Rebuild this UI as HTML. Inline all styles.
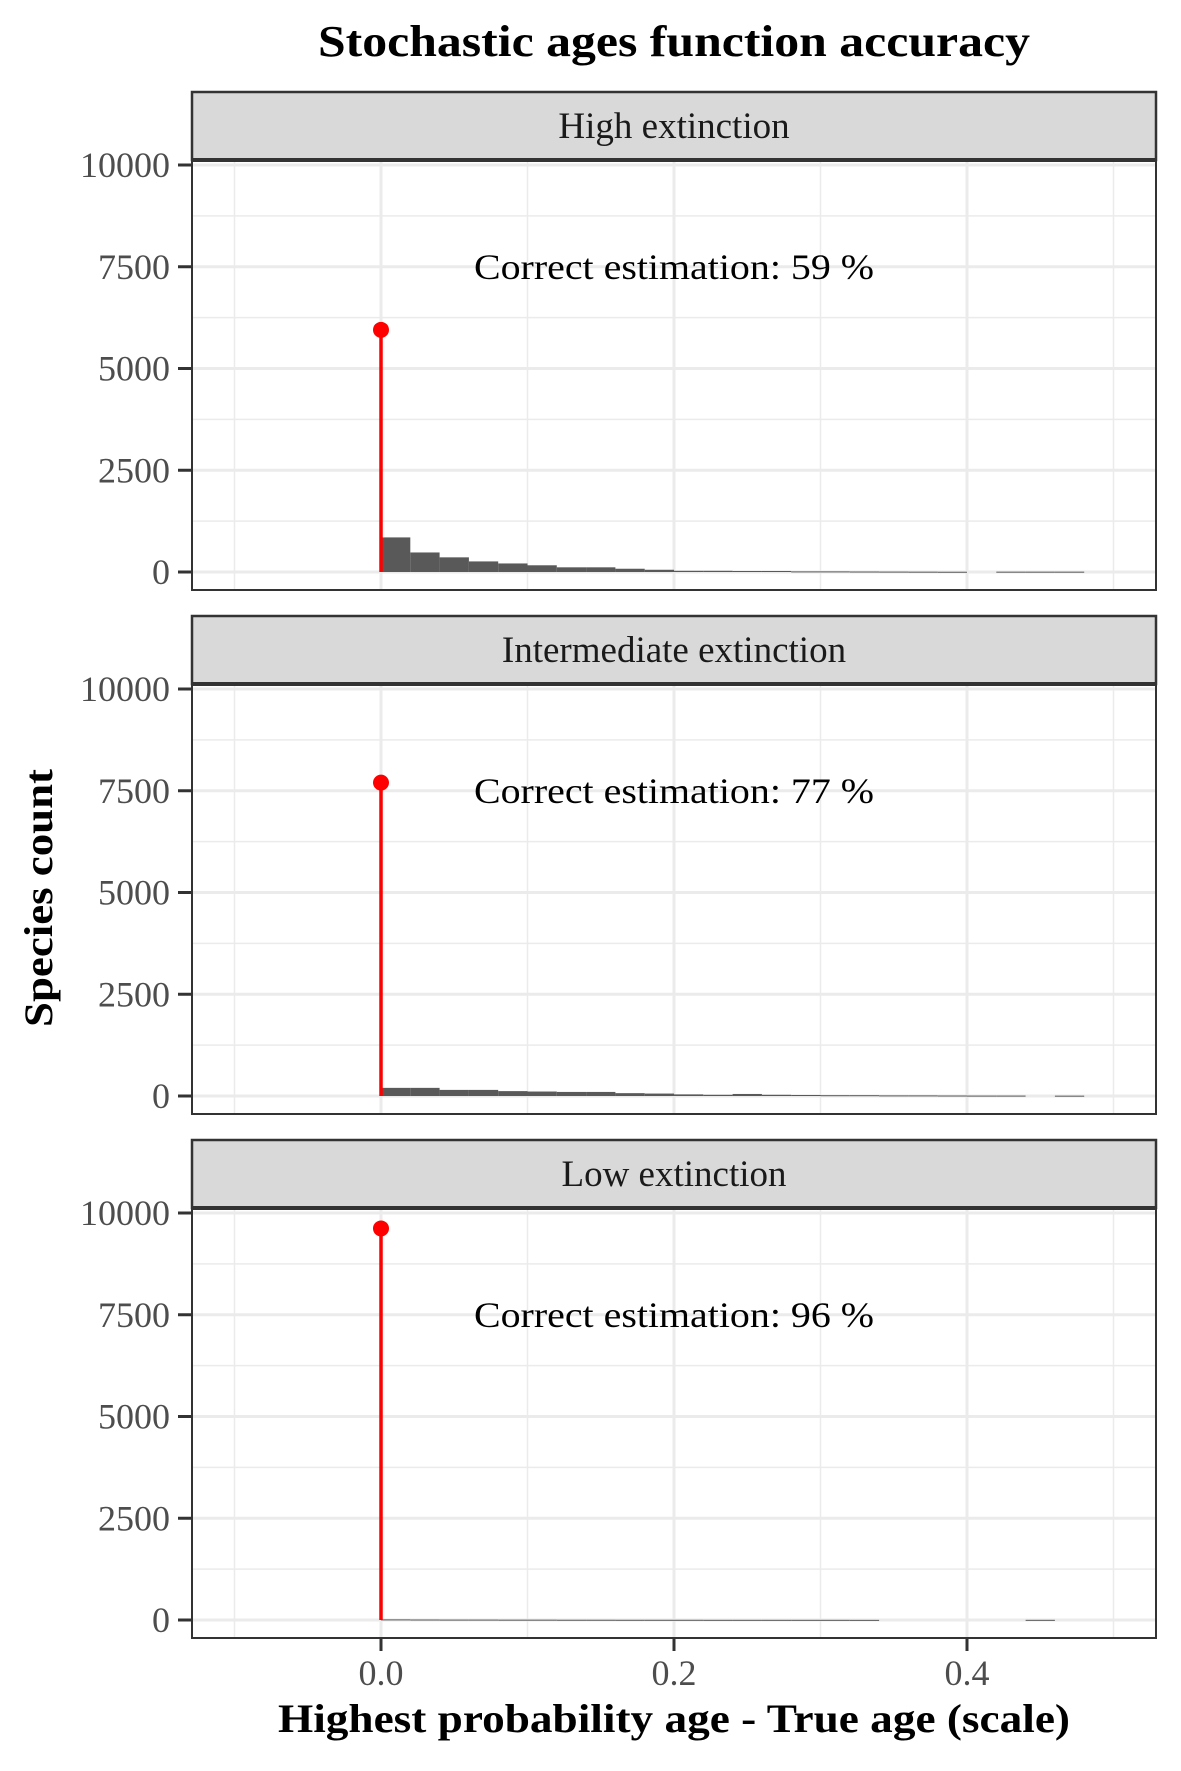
<!DOCTYPE html>
<html><head><meta charset="utf-8"><style>
html,body{margin:0;padding:0;background:#fff;}
svg{display:block;font-family:"Liberation Serif",serif;}
</style></head><body>
<svg id="chart" width="1181" height="1771" viewBox="0 0 1181 1771" xmlns="http://www.w3.org/2000/svg">
<text x="674" y="56" text-anchor="middle" font-size="44" font-weight="bold" textLength="712" lengthAdjust="spacingAndGlyphs">Stochastic ages function accuracy</text>
<text x="674" y="1732" text-anchor="middle" font-size="40" font-weight="bold" textLength="792" lengthAdjust="spacingAndGlyphs">Highest probability age - True age (scale)</text>
<text transform="translate(52,898) rotate(-90)" text-anchor="middle" font-size="40" font-weight="bold" textLength="258" lengthAdjust="spacingAndGlyphs">Species count</text>
<g id="panels"></g>
</svg>
<script>
const panelNames = ["High extinction", "Intermediate extinction", "Low extinction"];
const accuracyLabels = ["Correct estimation: 59 %", "Correct estimation: 77 %", "Correct estimation: 96 %"];
const correctCounts = [5950, 7700, 9620];
const binStarts = [0.00,0.02,0.04,0.06,0.08,0.10,0.12,0.14,0.16,0.18,0.20,0.22,0.24,0.26,0.28,0.30,0.32,0.34,0.36,0.38,0.40,0.42,0.44,0.46];
const highCounts = [850,480,360,260,210,165,115,115,80,55,30,30,25,25,15,15,12,10,8,6,0,8,8,8];
const midCounts = [200,200,150,150,120,110,100,100,70,60,40,30,50,30,25,20,20,15,15,12,10,10,0,8];
const lowCounts = [15,12,10,10,8,8,6,6,5,5,5,4,4,4,4,4,3,0,0,0,0,0,4,0];
const seriesCounts = [highCounts, midCounts, lowCounts];
const yTicks = [0,2500,5000,7500,10000];
const yTickLabels = ["0","2500","5000","7500","10000"];
const xTicks = [0.0,0.2,0.4];
const xTickLabels = ["0.0","0.2","0.4"];
const xMinor = [-0.1,0.1,0.3,0.5];
const yMinor = [1250,3750,6250,8750];
const binWidth = 0.02;

const NS = "http://www.w3.org/2000/svg";
const L = 192, R = 1156;
const x = v => 381 + (v / 0.2) * 293;
const root = document.getElementById("panels");
function mk(tag, attrs, parent) {
  const e = document.createElementNS(NS, tag);
  for (const k in attrs) e.setAttribute(k, attrs[k]);
  parent.appendChild(e);
  return e;
}
panelNames.forEach((name, p) => {
  const top = 92 + p * 524;
  const stripB = top + 68;
  const y0 = top + 480, yTop = top + 73, bottom = top + 498;
  const y = v => y0 - (v / 10000) * (y0 - yTop);
  const g = mk("g", {}, root);
  
  
  yMinor.forEach(v => { const l = mk("line", {x1:L, x2:R, y1:y(v), y2:y(v), stroke:"#ebebeb", "stroke-width":1.5}, g);
      });
  xMinor.forEach(v => { const l = mk("line", {x1:x(v), x2:x(v), y1:stripB, y2:bottom, stroke:"#ebebeb", "stroke-width":1.5}, g);
      });
  yTicks.forEach(v => { const l = mk("line", {x1:L, x2:R, y1:y(v), y2:y(v), stroke:"#ebebeb", "stroke-width":3}, g);
      });
  xTicks.forEach(v => { const l = mk("line", {x1:x(v), x2:x(v), y1:stripB, y2:bottom, stroke:"#ebebeb", "stroke-width":3}, g);
      });
  seriesCounts[p].forEach((c, i) => {
    if (c <= 0) return;
    const b = mk("rect", {x:x(binStarts[i]), width:x(binStarts[i] + binWidth) - x(binStarts[i]), y:y(c), height:Math.max(1, y0 - y(c)), fill:"#595959"}, g);
    
    
  });
  const ln = mk("line", {x1:x(0), x2:x(0), y1:y0, y2:y(correctCounts[p]), stroke:"#ff0000", "stroke-width":3.5}, g);
  
  
  const dot = mk("circle", {cx:x(0), cy:y(correctCounts[p]), r:8, fill:"#ff0000"}, g);
  
  
  const t = mk("text", {x:674, y:y(7500) + 12, "text-anchor":"middle", "font-size":36, textLength:400, lengthAdjust:"spacingAndGlyphs"}, g);
  t.textContent = accuracyLabels[p];
  
  
  const bd = mk("rect", {x:L, y:stripB, width:R - L, height:bottom - stripB, fill:"none", stroke:"#333", "stroke-width":2}, g);
  
  
  const st = mk("rect", {x:L, y:top, width:R - L, height:68, fill:"#d9d9d9", stroke:"#333", "stroke-width":2.5}, g);
  
  
  const sb = mk("line", {x1:L, x2:R, y1:stripB, y2:stripB, stroke:"#333", "stroke-width":4}, g);
  
  
  const stt = mk("text", {x:(L + R) / 2, y:top + 46, "text-anchor":"middle", "font-size":37, fill:"#1a1a1a"}, g);
  stt.textContent = name;
  
  
  yTicks.forEach((v, i) => {
    const tk = mk("line", {x1:178, x2:L, y1:y(v), y2:y(v), stroke:"#333", "stroke-width":3}, g);
    
    
    const tl = mk("text", {x:170, y:y(v) + 12, "text-anchor":"end", "font-size":36, fill:"#4d4d4d"}, g);
    tl.textContent = yTickLabels[i];
    
    
  });
  if (p === 2) {
    xTicks.forEach((v, i) => {
      const tk = mk("line", {x1:x(v), x2:x(v), y1:bottom, y2:bottom + 13, stroke:"#333", "stroke-width":3}, g);
      
      
      const tl = mk("text", {x:x(v), y:bottom + 47, "text-anchor":"middle", "font-size":36, fill:"#4d4d4d"}, g);
      tl.textContent = xTickLabels[i];
      
      
    });
  }
});
</script>
</body></html>
